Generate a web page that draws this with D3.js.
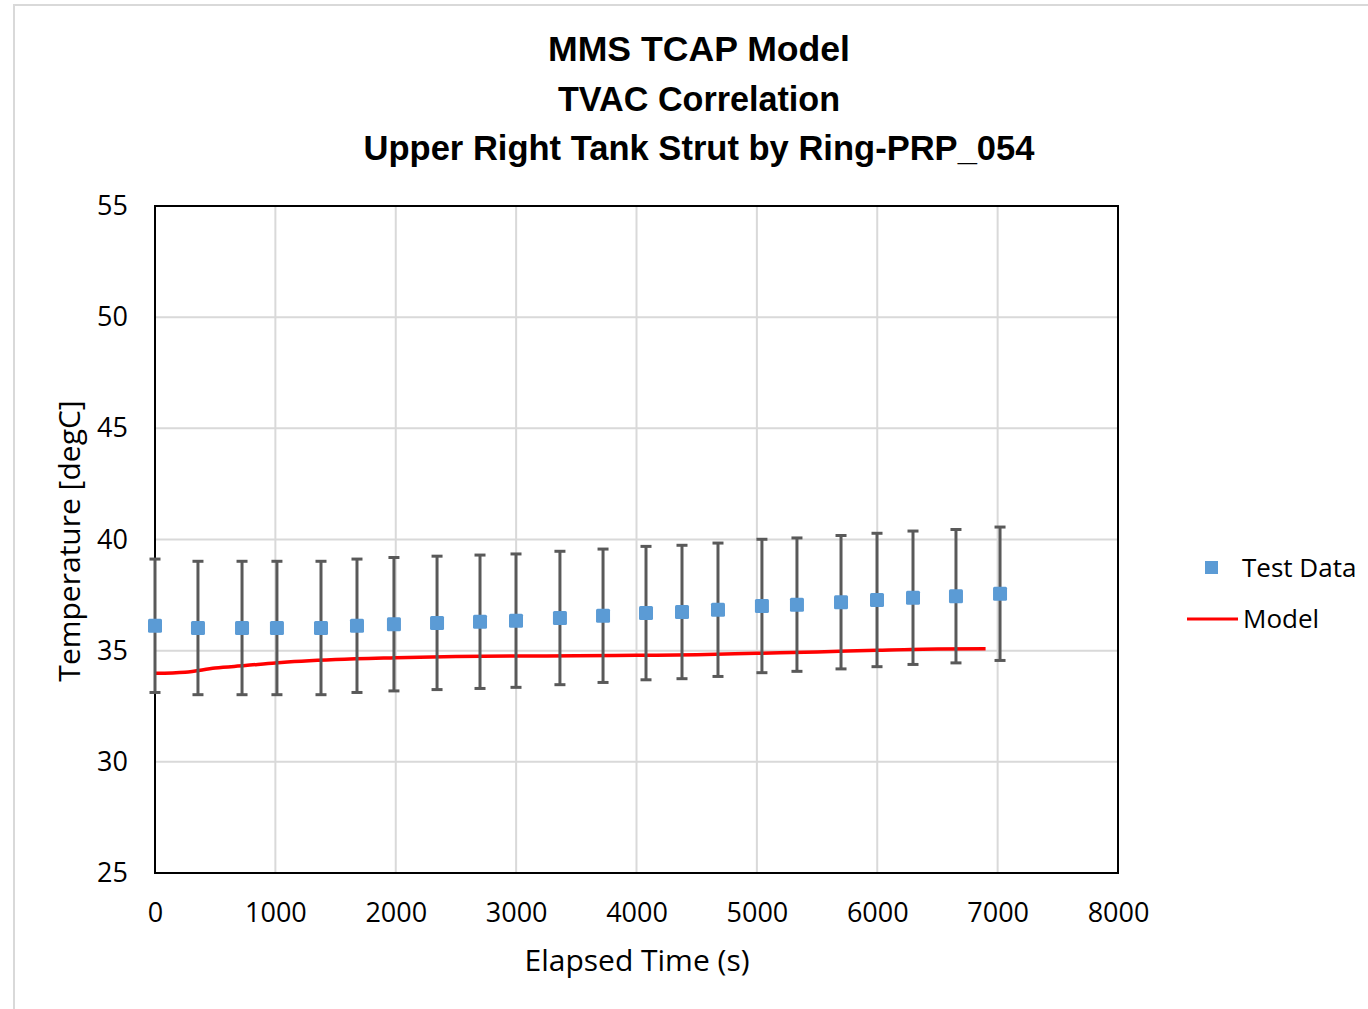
<!DOCTYPE html>
<html><head><meta charset="utf-8">
<script src="https://cdn.jsdelivr.net/npm/d3@7"></script>
<style>body{margin:0;background:#fff;}svg{display:block;}</style>
</head><body>
<svg id="c" width="1368" height="1009"></svg>
<script>
const titleLines = ["MMS TCAP Model", "TVAC Correlation", "Upper Right Tank Strut by Ring-PRP_054"];
const xTicks = [0,1000,2000,3000,4000,5000,6000,7000,8000];
const yTicks = [25,30,35,40,45,50,55];
const testTime = [0,357,723,1013,1379,1678,1985,2343,2700,2999,3364,3722,4079,4378,4677,5042,5333,5699,5998,6297,6654,7020];
const testTemp = [36.12,36.02,36.02,36.02,36.02,36.12,36.19,36.25,36.30,36.35,36.47,36.57,36.69,36.74,36.84,37.01,37.07,37.18,37.28,37.38,37.45,37.56];
const testErr = [3,3,3,3,3,3,3,3,3,3,3,3,3,3,3,3,3,3,3,3,3,3];
const modelTime = [0,250,500,750,1000,1500,2000,2500,3000,3500,4000,4500,5000,5500,6000,6500,6900];
const modelTemp = [33.98,34.03,34.22,34.33,34.45,34.60,34.68,34.74,34.76,34.77,34.79,34.82,34.88,34.94,35.02,35.08,35.09];

const svg = d3.select("#c");
const L=155, R=1118, T=206, B=873;
const x = d3.scaleLinear().domain([0,8000]).range([L,R]);
const y = d3.scaleLinear().domain([25,55]).range([B,T]);
const font = "'Open Sans','Noto Sans',sans-serif";

// outer frame
svg.append("rect").attr("x",14).attr("y",5).attr("width",1400).attr("height",1100)
  .attr("fill","none").attr("stroke","#d9d9d9").attr("stroke-width",2);

// title
const tw=[302,282,671];
titleLines.forEach((t,i)=>{
  svg.append("text").attr("x",699).attr("y",61+i*49.5).attr("text-anchor","middle")
    .attr("font-family","'Liberation Sans Narrow','Liberation Sans',sans-serif")
    .attr("font-weight","bold").attr("font-size",35).attr("fill","#000")
    .attr("textLength",tw[i]).attr("lengthAdjust","spacingAndGlyphs").text(t);
});

// grid
svg.append("g").selectAll("line").data(xTicks).join("line")
  .attr("x1",d=>x(d)).attr("x2",d=>x(d)).attr("y1",T).attr("y2",B)
  .attr("stroke","#d9d9d9").attr("stroke-width",2);
svg.append("g").selectAll("line").data(yTicks).join("line")
  .attr("y1",d=>y(d)).attr("y2",d=>y(d)).attr("x1",L).attr("x2",R)
  .attr("stroke","#d9d9d9").attr("stroke-width",2);

// axes with d3 (labels only)
const xa = svg.append("g").attr("transform",`translate(0,${B})`)
  .call(d3.axisBottom(x).tickValues(xTicks).tickSize(0).tickPadding(30).tickFormat(d3.format("d")));
xa.select(".domain").remove();
xa.selectAll("text").attr("font-family",font).attr("font-size",27).attr("fill","#000");
const ya = svg.append("g").attr("transform",`translate(${L},0)`)
  .call(d3.axisLeft(y).tickValues(yTicks).tickSize(0).tickPadding(27));
ya.select(".domain").remove();
ya.selectAll("text").attr("font-family",font).attr("font-size",27).attr("fill","#000");

// plot border
svg.append("rect").attr("x",L).attr("y",T).attr("width",R-L).attr("height",B-T)
  .attr("fill","none").attr("stroke","#000").attr("stroke-width",2);

// model line
svg.append("path").datum(modelTime.map((t,i)=>[t,modelTemp[i]]))
  .attr("d",d3.line().x(d=>x(d[0])).y(d=>y(d[1])).curve(d3.curveMonotoneX))
  .attr("fill","none").attr("stroke","#ff0000").attr("stroke-width",3.5);

// error bars
const eb = svg.append("g").attr("stroke","#595959").attr("stroke-width",3);
testTime.forEach((t,i)=>{
  const cx=x(t), y1=y(testTemp[i]+testErr[i]), y2=y(testTemp[i]-testErr[i]);
  eb.append("line").attr("x1",cx).attr("x2",cx).attr("y1",y1).attr("y2",y2);
  eb.append("line").attr("x1",cx-5.5).attr("x2",cx+5.5).attr("y1",y1).attr("y2",y1);
  eb.append("line").attr("x1",cx-5.5).attr("x2",cx+5.5).attr("y1",y2).attr("y2",y2);
});
// markers
svg.append("g").selectAll("rect").data(testTime).join("rect")
  .attr("x",(d)=>x(d)-7).attr("y",(d,i)=>y(testTemp[i])-7).attr("width",14).attr("height",14)
  .attr("rx",1.5).attr("fill","#5b9bd5");

// axis titles
svg.append("text").attr("x",637).attr("y",971).attr("text-anchor","middle")
  .attr("font-family",font).attr("font-size",30).attr("fill","#000").text("Elapsed Time (s)");
svg.append("text").attr("transform","translate(80,541) rotate(-90)").attr("text-anchor","middle")
  .attr("font-family",font).attr("font-size",30).attr("fill","#000").text("Temperature [degC]");

// legend
svg.append("rect").attr("x",1205).attr("y",561).attr("width",13).attr("height",13).attr("fill","#5b9bd5");
svg.append("text").attr("x",1242).attr("y",577).attr("font-family",font).attr("font-size",26).text("Test Data");
svg.append("line").attr("x1",1187).attr("x2",1238).attr("y1",619).attr("y2",619).attr("stroke","#ff0000").attr("stroke-width",3);
svg.append("text").attr("x",1243).attr("y",628).attr("font-family",font).attr("font-size",26).text("Model");
</script>
</body></html>
